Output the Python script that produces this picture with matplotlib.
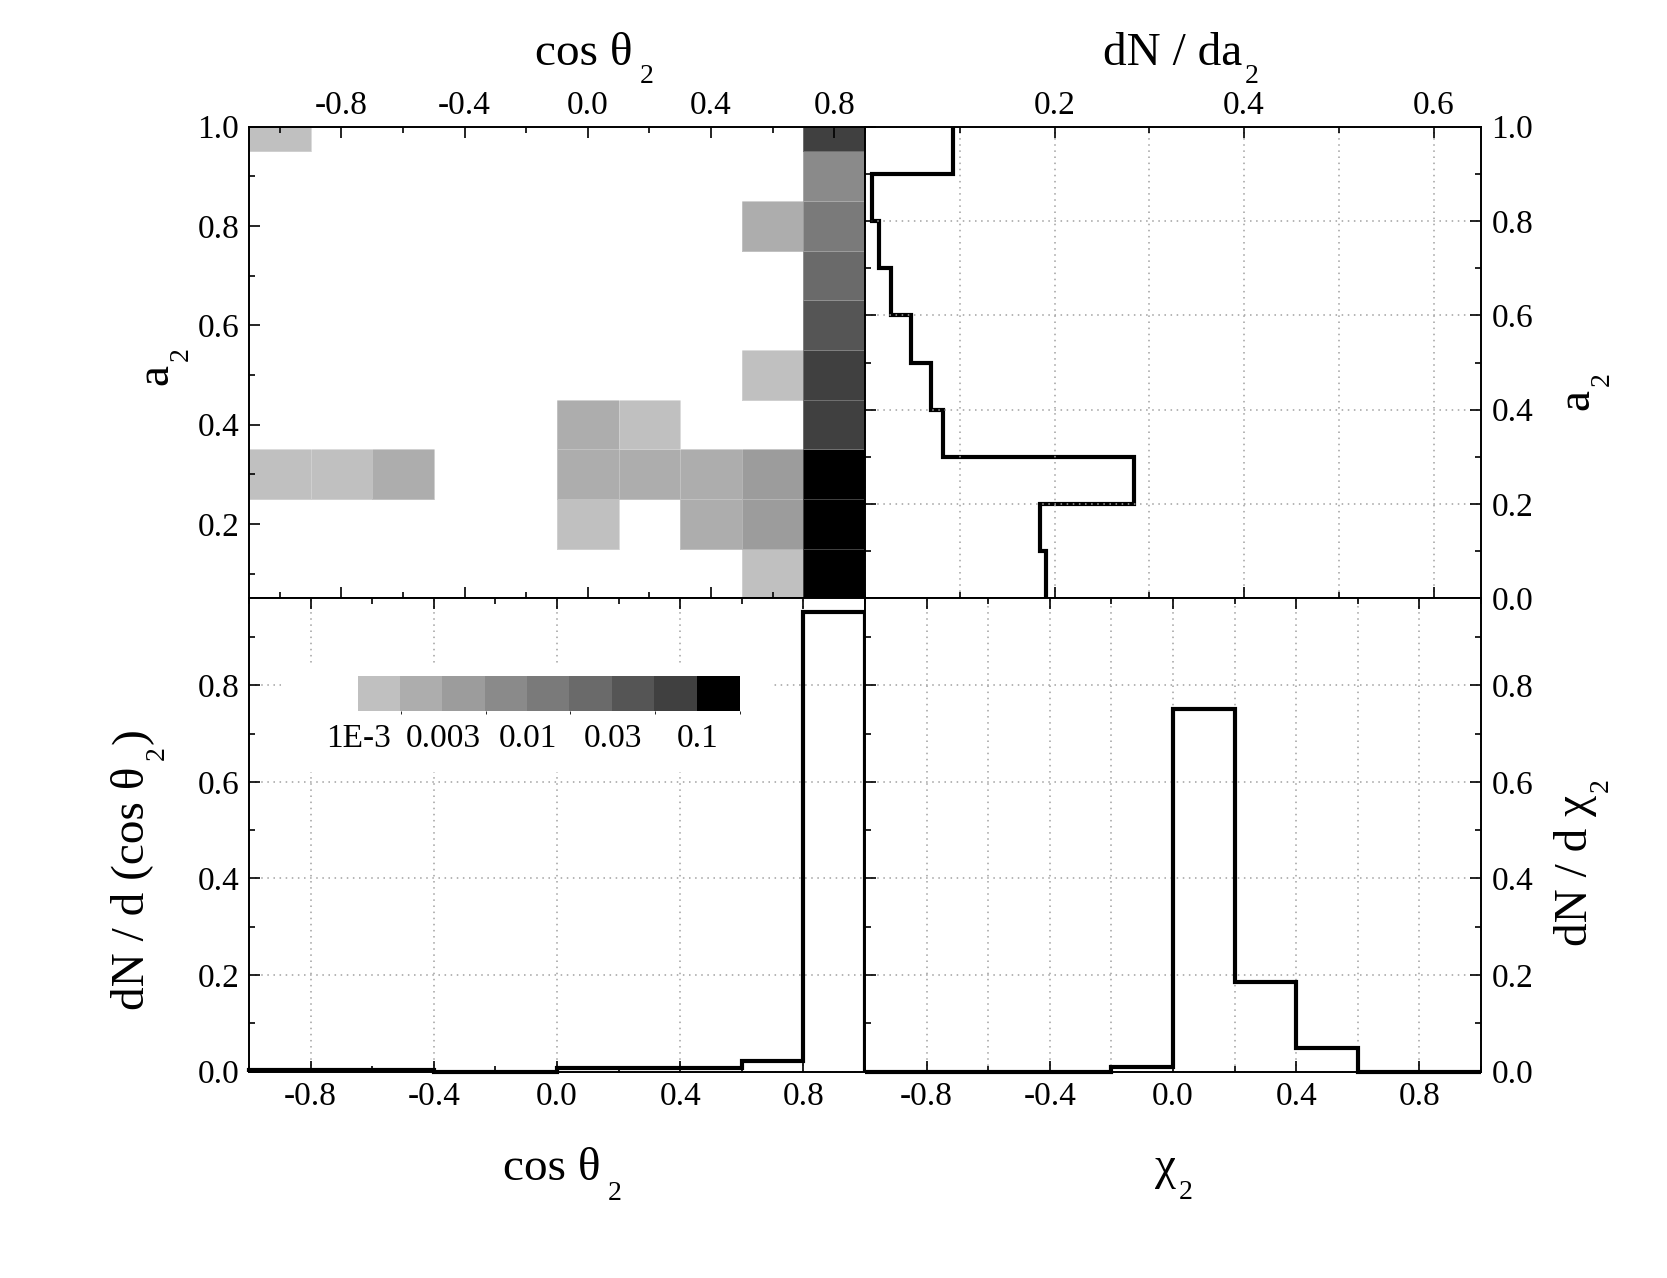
import numpy as np
import matplotlib
matplotlib.use('Agg')
import matplotlib.pyplot as plt
from matplotlib.colors import ListedColormap, BoundaryNorm
from matplotlib.ticker import MultipleLocator, FixedLocator, FormatStrFormatter
from matplotlib.text import Annotation

plt.rcParams['font.family'] = ['Liberation Serif', 'DejaVu Serif']
plt.rcParams['axes.unicode_minus'] = False

# bins
cos_edges = [-1.0, -0.8, -0.6, -0.4, -0.2, 0.0, 0.2, 0.4, 0.6, 0.8, 1.0]
a2_edges = [0.05, 0.15, 0.25, 0.35, 0.45, 0.55, 0.65, 0.75, 0.85, 0.95, 1.05]
a2_hist_edges = [0.0, 0.1, 0.2, 0.3, 0.4, 0.5, 0.6, 0.7, 0.8, 0.9, 1.0]

# 2D map (rows: a2 = 0.1 ... 1.0, cols: cos bins from -1 to 1), 0 = empty
heat = [
    [0,      0,      0,      0, 0, 0,      0,      0,      0.0013, 0.15],
    [0,      0,      0,      0, 0, 0.0013, 0,      0.0024, 0.0042, 0.15],
    [0.0013, 0.0013, 0.0024, 0, 0, 0.0024, 0.0024, 0.0024, 0.0042, 0.15],
    [0,      0,      0,      0, 0, 0.0024, 0.0013, 0,      0,      0.075],
    [0,      0,      0,      0, 0, 0,      0,      0,      0.0013, 0.075],
    [0,      0,      0,      0, 0, 0,      0,      0,      0,      0.042],
    [0,      0,      0,      0, 0, 0,      0,      0,      0,      0.024],
    [0,      0,      0,      0, 0, 0,      0,      0,      0.0024, 0.013],
    [0,      0,      0,      0, 0, 0,      0,      0,      0,      0.0075],
    [0.0013, 0,      0,      0, 0, 0,      0,      0,      0,      0.075],
]

# marginal distributions
dn_da2 = [0.191, 0.185, 0.284, 0.082, 0.070, 0.049, 0.027, 0.015, 0.007, 0.093]
dn_dcos = [0.004, 0.004, 0.004, 0.0, 0.0, 0.008, 0.008, 0.008, 0.022, 0.951]
dn_dchi = [0.0, 0.0, 0.0, 0.0, 0.009, 0.752, 0.185, 0.048, 0.0, 0.0]

gray_levels = ['#c0c0c0', '#adadad', '#9c9c9c', '#8a8a8a', '#7a7a7a',
               '#6a6a6a', '#555555', '#404040', '#000000']
cbar_ticks = [1e-3, 10 ** -2.5, 1e-2, 10 ** -1.5, 1e-1]
cbar_labels = ['1E-3', '0.003', '0.01', '0.03', '0.1']
heat_top_ticks = [-0.7, -0.3, 0.1, 0.5, 0.9]
heat_top_labels = ['-0.8', '-0.4', '0.0', '0.4', '0.8']
heat_top_minor = [-0.9, -0.5, -0.1, 0.3, 0.7]

TICK_FS = 24
LABEL_FS = 34
SUB_FS = 20
GRID = dict(color='#a0a0a0', linestyle=(0, (1, 3)), linewidth=1.1)

fig = plt.figure(figsize=(16.67, 12.78), dpi=100)

L, M, R = 0.1494, 0.5189, 0.8884
B, H, T = 0.1615, 0.5317, 0.9010

ax_heat = fig.add_axes([L, H, M - L, T - H])
ax_tr = fig.add_axes([M, H, R - M, T - H])
ax_ll = fig.add_axes([L, B, M - L, H - B])
ax_lr = fig.add_axes([M, B, R - M, H - B])

for ax in (ax_heat, ax_tr, ax_ll, ax_lr):
    for s in ax.spines.values():
        s.set_linewidth(1.4)
    ax.tick_params(which='both', direction='in', width=1.2, labelsize=TICK_FS)
    ax.tick_params(which='major', length=8)
    ax.tick_params(which='minor', length=4.5)

# --- 2D map
levels = 10 ** np.arange(-3.0, -0.74, 0.25)
cmap = ListedColormap(gray_levels)
norm = BoundaryNorm(levels, cmap.N, clip=True)
vals = np.ma.masked_equal(np.array(heat), 0)
mesh = ax_heat.pcolormesh(cos_edges, a2_edges, vals, cmap=cmap, norm=norm,
                          edgecolor=(1, 1, 1, 0.25), linewidth=0.6)
ax_heat.set_xlim(-1, 1)
ax_heat.set_ylim(0.05, 1.0)
ax_heat.xaxis.set_major_locator(FixedLocator(heat_top_ticks))
ax_heat.xaxis.set_minor_locator(FixedLocator(heat_top_minor))
ax_heat.set_xticklabels(heat_top_labels)
ax_heat.yaxis.set_major_locator(MultipleLocator(0.2))
ax_heat.yaxis.set_minor_locator(MultipleLocator(0.1))
ax_heat.yaxis.set_major_formatter(FormatStrFormatter('%.1f'))
ax_heat.tick_params(axis='x', which='both', top=True, bottom=True,
                    labeltop=True, labelbottom=False, pad=4)
ax_heat.tick_params(axis='y', which='both', left=True, right=False, pad=7)

# --- dN/da2
ax_tr.stairs(dn_da2, a2_hist_edges, orientation='horizontal', baseline=None,
             color='black', linewidth=3)
ax_tr.set_xlim(0, 0.65)
ax_tr.set_ylim(0, 1.0)
ax_tr.xaxis.set_major_locator(FixedLocator([0.2, 0.4, 0.6]))
ax_tr.xaxis.set_minor_locator(MultipleLocator(0.1))
ax_tr.xaxis.set_major_formatter(FormatStrFormatter('%.1f'))
ax_tr.yaxis.set_major_locator(MultipleLocator(0.2))
ax_tr.yaxis.set_minor_locator(MultipleLocator(0.1))
ax_tr.yaxis.set_major_formatter(FormatStrFormatter('%.1f'))
ax_tr.tick_params(axis='x', which='both', top=True, bottom=True,
                  labeltop=True, labelbottom=False, pad=4)
ax_tr.tick_params(axis='y', which='both', left=True, right=True,
                  labelleft=False, labelright=True, pad=7.5)
ax_tr.grid(True, axis='x', which='both', **GRID)
ax_tr.grid(True, axis='y', which='major', **GRID)

# --- dN/dcos
ax_ll.stairs(dn_dcos, cos_edges, baseline=0, color='black', linewidth=3,
             clip_on=False, zorder=3)
ax_ll.set_xlim(-1, 1)
ax_ll.set_ylim(0, 0.98)
ax_ll.xaxis.set_major_locator(MultipleLocator(0.4))
ax_ll.xaxis.set_minor_locator(MultipleLocator(0.2))
ax_ll.xaxis.set_major_formatter(FormatStrFormatter('%.1f'))
ax_ll.yaxis.set_major_locator(MultipleLocator(0.2))
ax_ll.yaxis.set_minor_locator(MultipleLocator(0.1))
ax_ll.yaxis.set_major_formatter(FormatStrFormatter('%.1f'))
ax_ll.tick_params(axis='x', which='both', top=True, bottom=True, pad=7)
ax_ll.tick_params(axis='y', which='both', left=True, right=False, pad=7)
ax_ll.grid(True, which='major', **GRID)

# --- dN/dchi
ax_lr.stairs(dn_dchi, cos_edges, baseline=0, color='black', linewidth=3,
             clip_on=False, zorder=3)
ax_lr.set_xlim(-1, 1)
ax_lr.set_ylim(0, 0.98)
ax_lr.xaxis.set_major_locator(MultipleLocator(0.4))
ax_lr.xaxis.set_minor_locator(MultipleLocator(0.2))
ax_lr.xaxis.set_major_formatter(FormatStrFormatter('%.1f'))
ax_lr.yaxis.set_major_locator(MultipleLocator(0.2))
ax_lr.yaxis.set_minor_locator(MultipleLocator(0.1))
ax_lr.yaxis.set_major_formatter(FormatStrFormatter('%.1f'))
ax_lr.tick_params(axis='x', which='both', top=True, bottom=True, pad=7)
ax_lr.tick_params(axis='y', which='both', left=True, right=True,
                  labelleft=False, labelright=True, pad=7.5)
ax_lr.grid(True, axis='x', which='both', **GRID)
ax_lr.grid(True, axis='y', which='major', **GRID)

# --- colour scale inset
box = fig.add_axes([0.1686, 0.3959, 0.2945, 0.0822])
box.set_xticks([])
box.set_yticks([])
for s in box.spines.values():
    s.set_visible(False)
box.set_facecolor('white')
cax = fig.add_axes([0.2149, 0.4437, 0.2291, 0.0274])
cb = fig.colorbar(mesh, cax=cax, orientation='horizontal', ticks=cbar_ticks)
cb.set_ticklabels(cbar_labels)
cb.outline.set_visible(False)
cb.solids.set_edgecolor('face')
cax.tick_params(length=0, labelsize=TICK_FS, pad=9)


# --- axis titles with dropped subscripts
def axis_title(x, y, main, sub, tail='', rot=0, gap=2, drop=0.5):
    t = fig.text(x, y, main, fontsize=LABEL_FS, rotation=rot,
                 rotation_mode='anchor', ha='left', va='baseline')
    if rot == 0:
        s = Annotation(sub, xy=(1, y), xycoords=(t, 'figure fraction'),
                       xytext=(gap, -drop), textcoords='offset points',
                       fontsize=SUB_FS, ha='left', va='top')
    else:
        s = Annotation(sub, xy=(x, 1), xycoords=('figure fraction', t),
                       xytext=(1.0, gap), textcoords='offset points',
                       fontsize=SUB_FS, rotation=90, rotation_mode='anchor',
                       ha='left', va='top')
    fig.add_artist(s)
    if tail:
        e = Annotation(tail, xy=(x, 1), xycoords=('figure fraction', s),
                       xytext=(0, 1), textcoords='offset points',
                       fontsize=LABEL_FS, rotation=90, rotation_mode='anchor',
                       ha='left', va='baseline')
        fig.add_artist(e)


axis_title(0.3209, 0.9490, 'cos θ', '2', gap=5, drop=-1)
axis_title(0.6614, 0.9490, 'dN / da', '2', drop=-1)
axis_title(0.3017, 0.0767, 'cos θ', '2', gap=5)
axis_title(0.6929, 0.0772, 'χ', '2')
axis_title(0.1002, 0.6987, 'a', '2', rot=90)
axis_title(0.0858, 0.2097, 'dN / d (cos θ', '2', tail=')', rot=90, gap=5)
axis_title(0.9526, 0.6790, 'a', '2', rot=90)
axis_title(0.9520, 0.2600, 'dN / d χ', '2', rot=90)

fig.savefig('out.png', dpi=100, facecolor='white')
